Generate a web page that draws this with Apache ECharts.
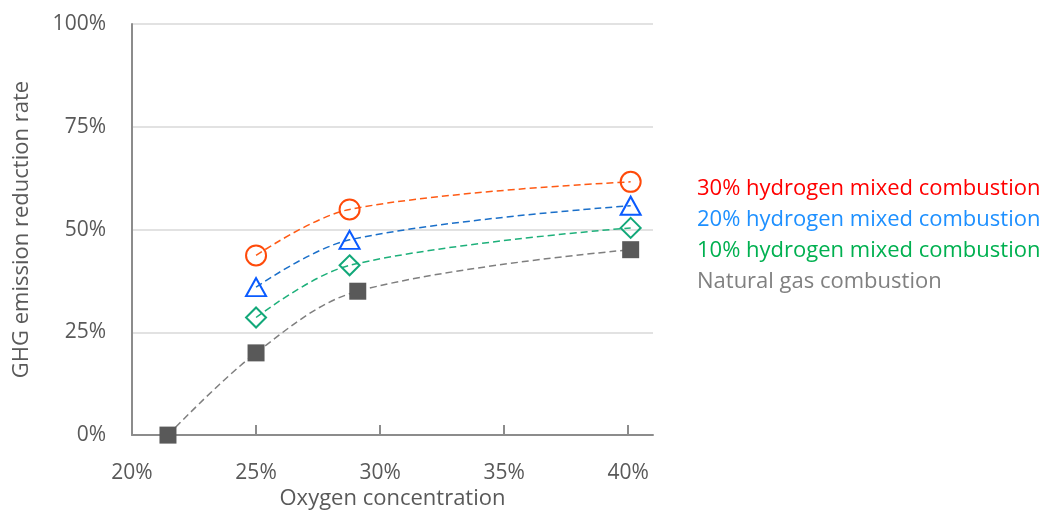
<!DOCTYPE html>
<html>
<head>
<meta charset="utf-8">
<script src="https://cdn.jsdelivr.net/npm/echarts@6/dist/echarts.min.js"></script>
<style>html,body{margin:0;padding:0;background:#fff}#c{width:1047px;height:515px}</style>
</head>
<body>
<div id="c"></div>
<script>
const seriesNames = ['30% hydrogen mixed combustion', '20% hydrogen mixed combustion', '10% hydrogen mixed combustion', 'Natural gas combustion'];
const xHydrogen = [0.25, 0.2877, 0.401];
const y30 = [0.437, 0.549, 0.616];
const y20 = [0.360, 0.475, 0.558];
const y10 = [0.286, 0.413, 0.504];
const xNatural = [0.2145, 0.25, 0.291, 0.401];
const yNatural = [0.0, 0.200, 0.350, 0.451];
const xTicks = [0.20, 0.25, 0.30, 0.35, 0.40];

const pairs = (xs, ys) => xs.map((x, i) => [x, ys[i]]);
const FONT = '"Open Sans", "Noto Sans", sans-serif';
const pct = v => Math.round(v * 100) + '%';

const styles = [
  {line: '#FF5A14', marker: '#FF4A0A', symbol: 'circle', size: 20, text: '#FF0000', fill: 'transparent'},
  {line: '#1A6FC9', marker: '#0A5BFF', symbol: 'triangle', size: 20, text: '#1E90FF', fill: 'transparent'},
  {line: '#1DB07A', marker: '#12A879', symbol: 'diamond', size: 20, text: '#00B050', fill: 'transparent'},
  {line: '#7F7F7F', marker: '#595959', symbol: 'rect', size: 17, text: '#808080', fill: '#595959'}
];
const datasets = [pairs(xHydrogen, y30), pairs(xHydrogen, y20), pairs(xHydrogen, y10), pairs(xNatural, yNatural)];

const chart = echarts.init(document.getElementById('c'));
chart.setOption({
  animation: false,
  textStyle: {fontFamily: FONT},
  grid: {left: 132, right: 394, top: 24, bottom: 72, containLabel: false},
  legend: {
    orient: 'vertical', left: 692, top: 173, icon: 'none', itemWidth: 0, itemHeight: 10, itemGap: 9,
    data: seriesNames.map((n, i) => ({name: n, textStyle: {color: styles[i].text}})),
    textStyle: {fontSize: 22, fontFamily: FONT, padding: [0,0,0,-5]}
  },
  xAxis: {
    type: 'value', min: 0.2, max: 0.41, interval: 0.05,
    name: 'Oxygen concentration', nameLocation: 'middle', nameGap: 47,
    nameTextStyle: {fontSize: 22, color: '#595959'},
    axisLine: {show: true, lineStyle: {color: '#8c8c8c', width: 2}},
    axisTick: {show: true, inside: true, length: 10, customValues: xTicks.slice(1), lineStyle: {color: '#8c8c8c', width: 2}},
    axisLabel: {customValues: xTicks, formatter: pct, fontSize: 21, color: '#595959', margin: 27},
    splitLine: {show: false}
  },
  yAxis: {
    type: 'value', min: 0, max: 1, interval: 0.25,
    name: 'GHG emission reduction rate', nameLocation: 'middle', nameGap: 99, nameRotate: 90,
    nameTextStyle: {fontSize: 22, color: '#595959'},
    axisLine: {show: true, lineStyle: {color: '#8c8c8c', width: 2}},
    axisTick: {show: false},
    axisLabel: {formatter: pct, fontSize: 21, color: '#595959', margin: 26},
    splitLine: {show: true, lineStyle: {color: '#d9d9d9', width: 1.5}}
  },
  series: seriesNames.map((n, i) => ({
    name: n, type: 'line', data: datasets[i], smooth: 0.35,
    symbol: styles[i].symbol, symbolSize: styles[i].symbol === 'triangle' ? [20, 18] : styles[i].size,
    showAllSymbol: true,
    z: 10 - i,
    lineStyle: {color: styles[i].line, width: 1.5, type: [7, 4]},
    itemStyle: {color: styles[i].fill, borderColor: styles[i].marker, borderWidth: styles[i].fill === 'transparent' ? 2 : 0},
    emphasis: {disabled: true}
  }))
});
</script>
</body>
</html>
